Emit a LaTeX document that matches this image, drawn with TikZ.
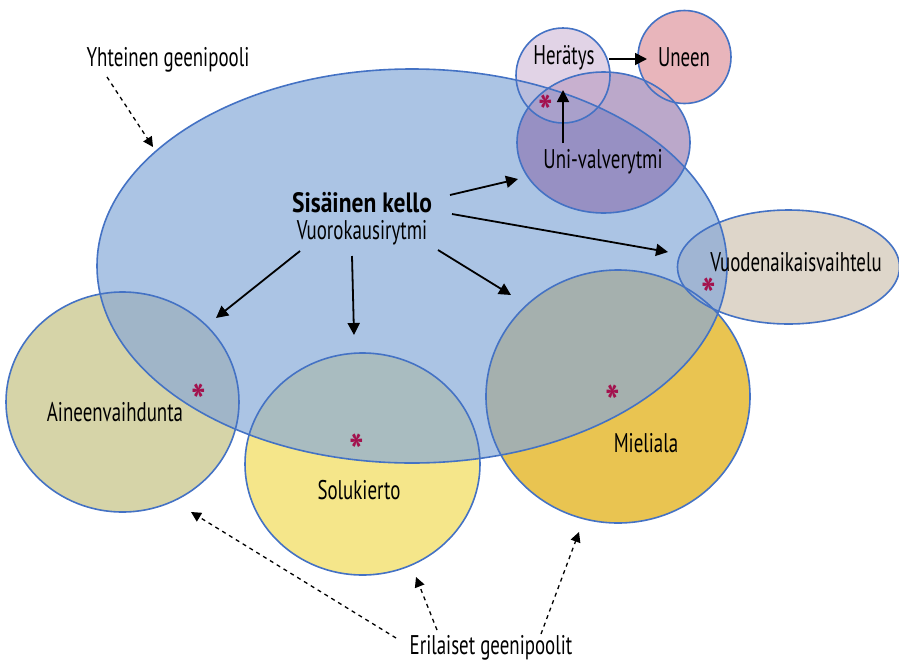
\documentclass[tikz,border=0pt]{standalone}
\usepackage{fontspec}
\setmainfont{PT Sans}[FakeStretch=0.7, BoldFeatures={FakeStretch=0.84}]
\usetikzlibrary{arrows.meta}
\definecolor{cBig}{HTML}{ABC4E4}
\definecolor{cAin}{HTML}{D6D4A8}
\definecolor{cAinOv}{HTML}{A0B5C8}
\definecolor{cSol}{HTML}{F5E68A}
\definecolor{cSolOv}{HTML}{A9BCC0}
\definecolor{cMie}{HTML}{E9C451}
\definecolor{cMieOv}{HTML}{A5B0AE}
\definecolor{cVuo}{HTML}{DED6CA}
\definecolor{cVuoOv}{HTML}{A0B5D3}
\definecolor{cUni}{HTML}{BBA8CA}
\definecolor{cUniOv}{HTML}{9790C3}
\definecolor{cHer}{HTML}{E1D3E6}
\definecolor{cHerBig}{HTML}{B9BDDD}
\definecolor{cHerUni}{HTML}{C8B0CF}
\definecolor{cHerUniBig}{HTML}{A9A0CB}
\definecolor{cUne}{HTML}{E8B5BB}
\definecolor{cUneUni}{HTML}{D4A9B8}
\definecolor{cLine}{HTML}{4472C4}
\definecolor{cStar}{HTML}{A3124E}
\tikzset{
  shBig/.style={insert path={(412,266) ellipse [x radius=315pt, y radius=197pt]}},
  shAin/.style={insert path={(122.5,402) ellipse [x radius=116.5pt, y radius=110pt]}},
  shSol/.style={insert path={(362.5,464) ellipse [x radius=117.5pt, y radius=111pt]}},
  shMie/.style={insert path={(618,396.5) ellipse [x radius=132pt, y radius=126.5pt]}},
  shVuo/.style={insert path={(788.5,267) ellipse [x radius=111pt, y radius=57pt]}},
  shUni/.style={insert path={(603.5,142.5) ellipse [x radius=86.5pt, y radius=70.5pt]}},
  shHer/.style={insert path={(563,75.5) ellipse [x radius=47pt, y radius=47.5pt]}},
  shUne/.style={insert path={(684.5,57) ellipse [x radius=46.5pt, y radius=46.5pt]}},
  bord/.style={draw=cLine, line width=1.6pt},
  lbl/.style={font=\fontsize{27}{30}\selectfont, inner sep=0pt, text=black},
  lblb/.style={font=\fontsize{28}{30}\selectfont\bfseries, inner sep=0pt, text=black},
  astk/.style={font=\fontsize{46}{46}\selectfont\bfseries, inner sep=0pt, text=cStar},
  arr/.style={-{Triangle[length=12pt,width=12pt]}, line width=1.8pt, black},
  darr/.style={-{Triangle[length=10pt,width=10pt]}, line width=1.3pt, black, dash pattern=on 4pt off 4pt},
}
\begin{document}
\begin{tikzpicture}[x=1pt,y=-1pt]
\useasboundingbox (0,0) rectangle (899,662);
% base fills
\fill[cBig, shBig];
\fill[cAin, shAin];
\fill[cSol, shSol];
\fill[cMie, shMie];
\fill[cVuo, shVuo];
\fill[cUni, shUni];
\fill[cUne, shUne];
\fill[cHer, shHer];
% overlaps
\begin{scope}\clip[shBig]; \fill[cAinOv, shAin]; \end{scope}
\begin{scope}\clip[shBig]; \fill[cSolOv, shSol]; \end{scope}
\begin{scope}\clip[shBig]; \fill[cMieOv, shMie]; \end{scope}
\begin{scope}\clip[shBig]; \fill[cVuoOv, shVuo]; \end{scope}
\begin{scope}\clip[shBig]; \fill[cUniOv, shUni]; \end{scope}
\begin{scope}\clip[shUni]; \fill[cUneUni, shUne]; \end{scope}
\begin{scope}\clip[shHer]; \fill[cHerBig, shBig]; \end{scope}
\begin{scope}\clip[shHer]; \fill[cHerUni, shUni]; \end{scope}
\begin{scope}\clip[shHer]; \clip[shUni]; \fill[cHerUniBig, shBig]; \end{scope}
% borders
\draw[bord, shBig];
\draw[bord, shAin];
\draw[bord, shSol];
\draw[bord, shMie];
\draw[bord, shVuo];
\draw[bord, shUni];
\draw[bord, shUne];
\draw[bord, shHer];
% labels
\node[lbl] (yht) at (168,60) {Yhteinen geenipooli};
\node[lbl] (her) at (564,58) {Herätys};
\node[lbl] (une) at (684,57) {Uneen};
\node[lbl] (uni) at (603,162) {Uni-valverytmi};
\node[lblb] (sis) at (362,203) {Sisäinen kello};
\node[lbl] (vrk) at (362,233) {Vuorokausirytmi};
\node[lbl] (vuo) at (796,262) {Vuodenaikaisvaihtelu};
\node[lbl] (ain) at (115,412) {Aineenvaihdunta};
\node[lbl] (sol) at (359,490) {Solukierto};
\node[lbl] (mie) at (646,443) {Mieliala};
\node[lbl] (eri) at (491,648) {Erilaiset geenipoolit};
% asterisks
\node[astk] (s1) at (546,112) {*};
\node[astk] (s2) at (199,401) {*};
\node[astk] (s3) at (357,451) {*};
\node[astk] (s4) at (613,402) {*};
\node[astk] (s5) at (709,295) {*};
% connector endpoints
\coordinate (a1s) at (450,195); \coordinate (a1e) at (518,179);
\coordinate (a2s) at (452,214); \coordinate (a2e) at (668,252);
\coordinate (a3s) at (438,250); \coordinate (a3e) at (511,295);
\coordinate (a4s) at (352,256); \coordinate (a4e) at (354,335);
\coordinate (a5s) at (300,251); \coordinate (a5e) at (216,318);
\coordinate (a6s) at (563,143); \coordinate (a6e) at (563,90);
\coordinate (a7s) at (609,59);  \coordinate (a7e) at (647,59);
\coordinate (d1s) at (107,77);  \coordinate (d1e) at (153,147);
\coordinate (d2s) at (396,638); \coordinate (d2e) at (191,512);
\coordinate (d3s) at (437,630); \coordinate (d3e) at (416,577);
\coordinate (d4s) at (541,634); \coordinate (d4e) at (579,532);
\draw[arr] (a1s) -- (a1e);
\draw[arr] (a2s) -- (a2e);
\draw[arr] (a3s) -- (a3e);
\draw[arr] (a4s) -- (a4e);
\draw[arr] (a5s) -- (a5e);
\draw[arr] (a6s) -- (a6e);
\draw[arr] (a7s) -- (a7e);
\draw[darr] (d1s) -- (d1e);
\draw[darr] (d2s) -- (d2e);
\draw[darr] (d3s) -- (d3e);
\draw[darr] (d4s) -- (d4e);
\end{tikzpicture}
\end{document}
